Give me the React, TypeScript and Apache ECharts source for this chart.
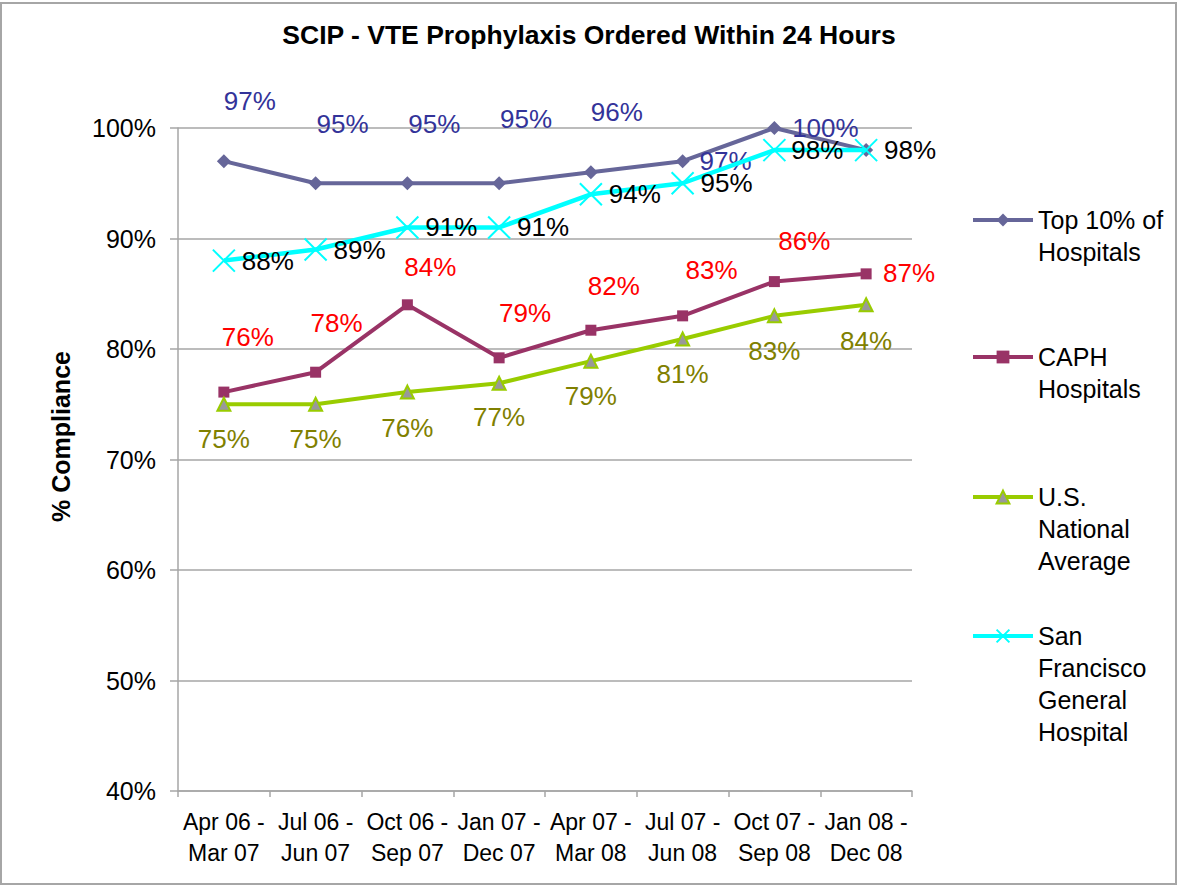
import React, { useEffect, useRef } from "react";
import * as echarts from "echarts";

const categories = [
  "Apr 06 -\nMar 07",
  "Jul 06 -\nJun 07",
  "Oct 06 -\nSep 07",
  "Jan 07 -\nDec 07",
  "Apr 07 -\nMar 08",
  "Jul 07 -\nJun 08",
  "Oct 07 -\nSep 08",
  "Jan 08 -\nDec 08",
];

const top10 = [97, 95, 95, 95, 96, 97, 100, 98];
const caph = [76.1, 77.9, 84.0, 79.2, 81.7, 83.0, 86.1, 86.8];
const usNational = [75, 75, 76.1, 76.9, 78.9, 80.9, 83.0, 84.0];
const sfgh = [88, 89, 91, 91, 94, 95, 98, 98];

const yTicks = [40, 50, 60, 70, 80, 90, 100];

const seriesNames = [
  "Top 10% of Hospitals",
  "CAPH Hospitals",
  "U.S. National Average",
  "San Francisco General Hospital",
];
const legendLines = [
  ["Top 10% of", "Hospitals"],
  ["CAPH", "Hospitals"],
  ["U.S.", "National", "Average"],
  ["San", "Francisco", "General", "Hospital"],
];

// label offsets (layout only)
const top10Offsets: (number[] | null)[] = [
  [26, -60], [27, -59], [27, -59], [27, -64], [26, -60], [43, 0], [51, 0], null,
];
const caphOffsets = [
  [24, -55], [21, -49], [23, -38], [26, -45], [23, -44], [29, -46], [30, -41], [43, -1],
];
const usOffsets = [
  [0, 35], [0, 35], [0, 36], [0, 34], [0, 35], [0, 35], [0, 35], [0, 36],
];
const sfghOffsets = [
  [44, 0], [44, 0], [44, 0], [44, 0], [44, 0], [44, 0], [43, 0], [44, 0],
];

const FONT = "Liberation Sans, Arial, sans-serif";
const LEGEND_LH = 32;

function withLabels(values: number[], offsets: (number[] | null)[], color: string) {
  return values.map((v, i) => {
    const off = offsets[i];
    return {
      value: v,
      label: off
        ? {
            show: true,
            position: "inside",
            offset: off,
            color,
            fontSize: 26,
            fontFamily: FONT,
          }
        : { show: false },
    };
  });
}

const fmt = (p: any) => Math.round(p.value) + "%";

export default function App() {
  const ref = useRef<HTMLDivElement>(null);
  useEffect(() => {
    if (!ref.current) return;
    const chart = echarts.init(ref.current, undefined, { renderer: "svg" });
    const legendIconY = [220, 357, 497, 636];
    const legendItemStyles = [
      { itemStyle: {}, lineStyle: { width: 4 } },
      { itemStyle: {}, lineStyle: { width: 4 } },
      { itemStyle: {}, lineStyle: { width: 4 } },
      {
        itemStyle: { color: "#00FFFF", borderColor: "#00FFFF", borderWidth: 2 },
        lineStyle: { width: 4 },
      },
    ];
    const legends = seriesNames.map((name, i) => {
      const n = legendLines[i].length;
      return {
        show: true,
        orient: "vertical",
        left: 971,
        top: legendIconY[i] - ((2 * n - 1) * LEGEND_LH) / 2,
        padding: 0,
        itemWidth: 60,
        itemHeight: 16,
        data: [{ name, ...legendItemStyles[i] }],
        formatter: () => "\n".repeat(n - 1) + legendLines[i].join("\n"),
        selectedMode: false,
        textStyle: {
          color: "#000",
          fontSize: 25,
          fontFamily: FONT,
          lineHeight: LEGEND_LH,
        },
      };
    });

    chart.setOption({
      animation: false,
      backgroundColor: "#fff",
      textStyle: { fontFamily: FONT },
      title: {
        text: "SCIP - VTE Prophylaxis Ordered Within 24 Hours",
        left: "center",
        top: 16,
        textStyle: { fontSize: 26.5, fontWeight: "bold", color: "#000", fontFamily: FONT },
      },
      legend: legends,
      grid: { left: 178, right: 266, top: 128, bottom: 95, containLabel: false },
      xAxis: {
        type: "category",
        data: categories,
        boundaryGap: true,
        axisLine: { show: true, lineStyle: { color: "#A6A6A6", width: 1.5 } },
        axisTick: { show: true, interval: 0, length: 6, lineStyle: { color: "#A6A6A6", width: 1.5 } },
        axisLabel: {
          interval: 0,
          color: "#000",
          fontSize: 23,
          lineHeight: 31,
          margin: 15,
          fontFamily: FONT,
        },
      },
      yAxis: {
        type: "value",
        min: 40,
        max: 100,
        interval: 10,
        name: "% Compliance",
        nameLocation: "middle",
        nameGap: 105,
        nameTextStyle: {
          fontSize: 25,
          fontWeight: "bold",
          color: "#000",
          fontFamily: FONT,
          padding: [0, 0, 0, 46],
        },
        axisLine: { show: true, lineStyle: { color: "#A6A6A6", width: 1.5 } },
        axisTick: { show: true, length: 8, lineStyle: { color: "#A6A6A6", width: 1.5 } },
        axisLabel: {
          color: "#000",
          fontSize: 25,
          margin: 22,
          fontFamily: FONT,
          formatter: (v: number) => (yTicks.includes(v) ? v + "%" : ""),
        },
        splitLine: { show: true, lineStyle: { color: "#A6A6A6", width: 1.5 } },
      },
      graphic: [
        {
          type: "rect",
          shape: { x: 1, y: 3, width: 1175, height: 881 },
          style: { fill: "none", stroke: "#A6A6A6", lineWidth: 2 },
          silent: true,
        },
      ],
      series: [
        {
          name: seriesNames[0],
          type: "line",
          data: withLabels(top10, top10Offsets, "#333399"),
          symbol: "diamond",
          symbolSize: 14,
          lineStyle: { color: "#666699", width: 4 },
          itemStyle: { color: "#666699" },
          label: { formatter: fmt },
          z: 2,
        },
        {
          name: seriesNames[1],
          type: "line",
          data: withLabels(caph, caphOffsets, "#FF0000"),
          symbol: "rect",
          symbolSize: 11,
          lineStyle: { color: "#993366", width: 4 },
          itemStyle: { color: "#993366" },
          label: { formatter: fmt },
          z: 3,
        },
        {
          name: seriesNames[2],
          type: "line",
          data: withLabels(usNational, usOffsets, "#808000"),
          symbol: "triangle",
          symbolSize: 13,
          lineStyle: { color: "#99CC00", width: 4 },
          itemStyle: { color: "#999999", borderColor: "#99CC00", borderWidth: 2 },
          label: { formatter: fmt },
          z: 4,
        },
        {
          name: seriesNames[3],
          type: "line",
          data: withLabels(sfgh, sfghOffsets, "#000000"),
          symbol: "path://M0,0L10,10M10,0L0,10",
          symbolSize: [22, 22],
          lineStyle: { color: "#00FFFF", width: 4.5 },
          itemStyle: { color: "#00FFFF", borderColor: "#00FFFF", borderWidth: 2 },
          label: { formatter: fmt },
          z: 5,
        },
      ],
    });
    return () => chart.dispose();
  }, []);
  return (
    <div
      ref={ref}
      style={{ position: "absolute", left: 0, top: 0, width: 1178, height: 886 }}
    />
  );
}
